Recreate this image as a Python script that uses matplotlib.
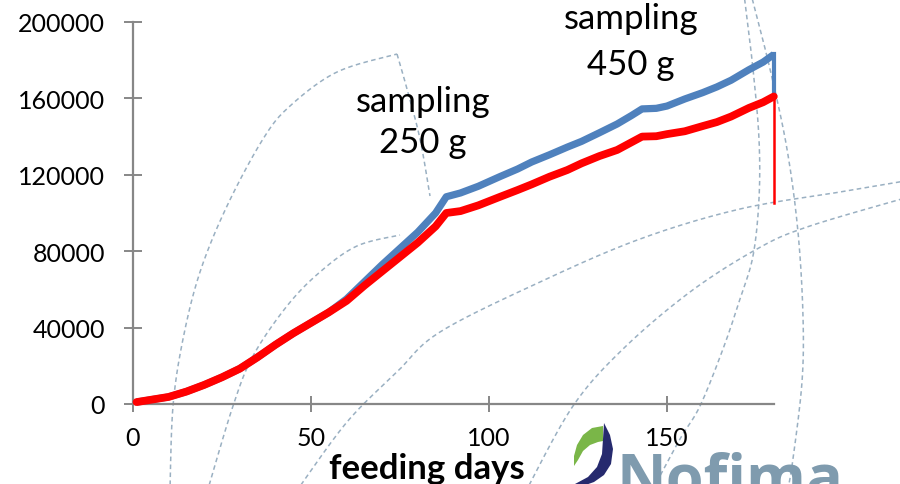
import numpy as np
import matplotlib
matplotlib.use("Agg")
import matplotlib.pyplot as plt
from matplotlib.patches import Polygon
from matplotlib.lines import Line2D

# ---------------- data ----------------
days = [1, 5, 10, 15, 20, 25, 30, 35, 40, 45, 50, 55, 60, 65, 70, 75, 80, 85, 88,
        92, 97, 103, 108, 112, 117, 122, 126, 131, 136, 140, 143, 147, 150, 155,
        160, 164, 168, 173, 177, 180, 180]
blue_vals = [1000, 2200, 3700, 6500, 10000, 14000, 18500, 24500, 31000, 37000, 42500,
             48000, 55000, 64000, 73000, 81500, 90000, 100000, 108500, 110500, 114000,
             119000, 123000, 126700, 130500, 134500, 137500, 142000, 146600, 151000,
             154500, 154800, 156000, 159700, 163000, 166000, 169500, 175000, 179000,
             183000, 161000]
red_vals = [1000, 2200, 3700, 6500, 10000, 14000, 18500, 24500, 31000, 37000, 42500,
            48000, 54000, 62000, 69500, 77000, 84500, 93000, 100000, 101000, 104000,
            108400, 112000, 115000, 119000, 122500, 126000, 129800, 133000, 137000,
            140000, 140200, 141300, 142800, 145500, 147600, 150500, 155000, 158000,
            161000, 105000]
x_ticks = [0, 50, 100, 150]
y_ticks = [0, 40000, 80000, 120000, 160000, 200000]
x_label = "feeding days"
annotations = [("sampling", "250 g"), ("sampling", "450 g")]

W, H = 900, 485
fig = plt.figure(figsize=(9, 4.85), dpi=100)
fig.patch.set_facecolor("white")

def fx(px):
    return px / W

def fy(py):
    return 1 - py / H

# ---------------- decorative dashed arcs (background) ----------------
def catmull(pts, n=20):
    pts = np.asarray(pts, float)
    P = np.vstack([pts[0], pts, pts[-1]])
    out = []
    for i in range(1, len(P) - 2):
        p0, p1, p2, p3 = P[i - 1], P[i], P[i + 1], P[i + 2]
        for t in np.linspace(0, 1, n, endpoint=False):
            t2, t3 = t * t, t * t * t
            out.append(0.5 * ((2 * p1) + (-p0 + p2) * t + (2 * p0 - 5 * p1 + 4 * p2 - p3) * t2
                              + (-p0 + 3 * p1 - 3 * p2 + p3) * t3))
    out.append(pts[-1])
    return np.array(out)

arcs = [
    [(170, 490), (173, 407), (183, 340), (200, 273), (227, 207), (263, 140), (290, 107), (337, 73), (397, 55)],
    [(397, 55), (407, 90), (420, 140), (430, 197)],
    [(208, 490), (233, 407), (253, 357), (287, 307), (320, 273), (357, 247), (400, 236)],
    [(298, 490), (347, 423), (397, 373), (440, 333), (540, 283), (640, 240), (740, 210), (840, 193), (905, 182)],
    [(527, 490), (573, 407), (623, 350), (690, 293), (757, 250), (807, 228), (905, 199)],
    [(744, -5), (753, 70), (759, 140), (759, 200), (753, 257), (740, 300), (723, 350), (700, 407), (680, 440), (653, 490)],
    [(751, -5), (770, 70), (787, 150), (798, 233), (803, 317), (802, 383), (793, 460), (788, 490)],
]
for pts in arcs:
    c = catmull(pts)
    fig.add_artist(Line2D(c[:, 0] / W, 1 - c[:, 1] / H, transform=fig.transFigure,
                          color="#9AB0C2", lw=1.1, ls=(0, (3.0, 2.2)), zorder=0))

# ---------------- axes ----------------
x0, x1 = 133, 773.8
y0, y1 = 405, 23
ax = fig.add_axes([fx(x0), fy(y0), fx(x1) - fx(x0), (y0 - y1) / H])
ax.set_facecolor("none")
ax.set_xlim(0, 180)
ax.set_ylim(0, 200000)

for s in ["top", "right"]:
    ax.spines[s].set_visible(False)
for s in ["left", "bottom"]:
    ax.spines[s].set_color("#878787")
    ax.spines[s].set_linewidth(1.6)

font = "Lato"
ax.set_xticks(x_ticks)
ax.set_yticks(y_ticks)
ax.set_xticklabels([str(v) for v in x_ticks], fontsize=18, family=font)
ax.set_yticklabels([str(v) for v in y_ticks], fontsize=18, family=font)
ax.tick_params(axis="y", direction="inout", length=13.5, width=1.4, color="#878787", pad=13.5)
ax.tick_params(axis="x", direction="inout", length=11, width=1.4, color="#878787", pad=10)

# main series (thick), last drop segment drawn thin
ax.plot(days[:-1], blue_vals[:-1], color="#4F81BD", lw=5.2, solid_joinstyle="round",
        solid_capstyle="butt", clip_on=False, zorder=3)
ax.plot(days[-2:], blue_vals[-2:], color="#4F81BD", lw=3.0, clip_on=False, zorder=3)
ax.plot(days[:-1], red_vals[:-1], color="#FF0000", lw=5.6, solid_joinstyle="round",
        solid_capstyle="round", clip_on=False, zorder=4)
ax.plot(days[-2:], red_vals[-2:], color="#FF0000", lw=1.8, clip_on=False, zorder=4)

# annotations
fs_ann = 25
ax.text(81.5, 153400, annotations[0][0], ha="center", va="baseline", fontsize=fs_ann, family=font)
ax.text(81.5, 132000, annotations[0][1], ha="center", va="baseline", fontsize=fs_ann, family=font)
ax.text(139.8, 197000, annotations[1][0], ha="center", va="baseline", fontsize=fs_ann, family=font)
ax.text(139.8, 172800, annotations[1][1], ha="center", va="baseline", fontsize=fs_ann, family=font)

# axis title
fig.text(fx(427), fy(479), x_label, ha="center", va="baseline", fontsize=25,
         fontweight="bold", family=font)

# ---------------- Nofima logo ----------------
green = [(603, 427), (592, 429), (583, 436), (577, 446), (574, 457), (574, 467),
         (578, 461), (583, 452), (590, 446), (598, 443), (603, 442)]
navy = [(604, 424), (610, 436), (613, 450), (611, 465), (604, 476), (594, 483),
        (580, 488), (565, 491), (575, 485), (588, 478), (597, 468), (602, 455), (603, 440)]
for pts, col in [(green, "#7AB648"), (navy, "#262A6E")]:
    poly = Polygon([(fx(a), fy(b)) for a, b in pts], closed=True, transform=fig.transFigure,
                   facecolor=col, edgecolor="none", zorder=5)
    fig.add_artist(poly)
fig.text(fx(617), fy(498), "Nofima", ha="left", va="baseline", fontsize=44,
         fontweight="bold", family="Open Sans", color="#7F9BAE")

fig.savefig("out.png", dpi=100)
